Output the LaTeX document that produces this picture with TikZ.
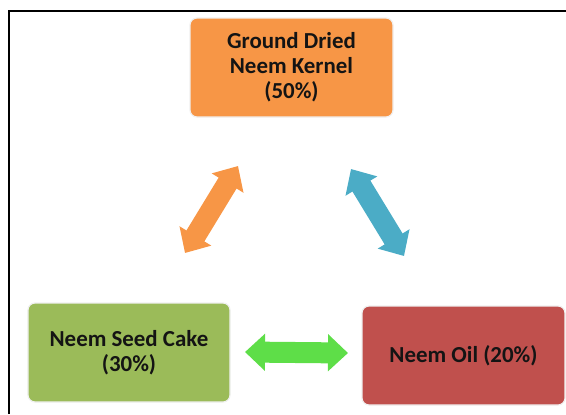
\documentclass[tikz,border=0pt]{standalone}
\usepackage{fontspec}
\setmainfont{Carlito}
\usetikzlibrary{arrows.meta}

\definecolor{kernelorange}{HTML}{F79646}
\definecolor{cakegreen}{HTML}{9BBB59}
\definecolor{oilred}{HTML}{C0504D}
\definecolor{linkblue}{HTML}{4BACC6}
\definecolor{linkgreen}{HTML}{5EDE48}

\tikzset{
  box/.style={rounded corners=7bp, inner sep=0pt, align=center,
    font=\fontsize{23}{25}\selectfont\bfseries, text=black!92,
    draw=gray!12, line width=1.2bp},
  blocklink/.style={line width=21bp,
    {Triangle[width=36bp,length=20bp]}-{Triangle[width=36bp,length=20bp]}},
}

\begin{document}
\begin{tikzpicture}[x=1bp,y=-1bp]
  \useasboundingbox (0,0) rectangle (566,414);
  % frame edges
  \draw[line width=2.2bp] (9,414) -- (9,11) -- (566,11);

  % boxes
  \node[box, fill=kernelorange, minimum width=203bp, minimum height=99bp]
    (kernel) at (291.5,67.5) {Ground Dried\\Neem Kernel\\(50\%)};
  \node[box, fill=cakegreen, minimum width=202bp, minimum height=99bp]
    (cake) at (129,352.5) {Neem Seed Cake\\(30\%)};
  \node[box, fill=oilred, minimum width=203bp, minimum height=99bp]
    (oil) at (463.5,355.5) {Neem Oil (20\%)};

  % arrow end points
  \coordinate (ka) at (238,166);
  \coordinate (ca) at (185,253);
  \coordinate (kb) at (351,169);
  \coordinate (ob) at (404,256);
  \coordinate (cc) at (245,352);
  \coordinate (oc) at (348,353);

  % double-headed links
  \draw[blocklink, draw=kernelorange] (ca) -- (ka);
  \draw[blocklink, draw=linkblue] (kb) -- (ob);
  \draw[blocklink, draw=linkgreen] (cc) -- (oc);
\end{tikzpicture}
\end{document}
